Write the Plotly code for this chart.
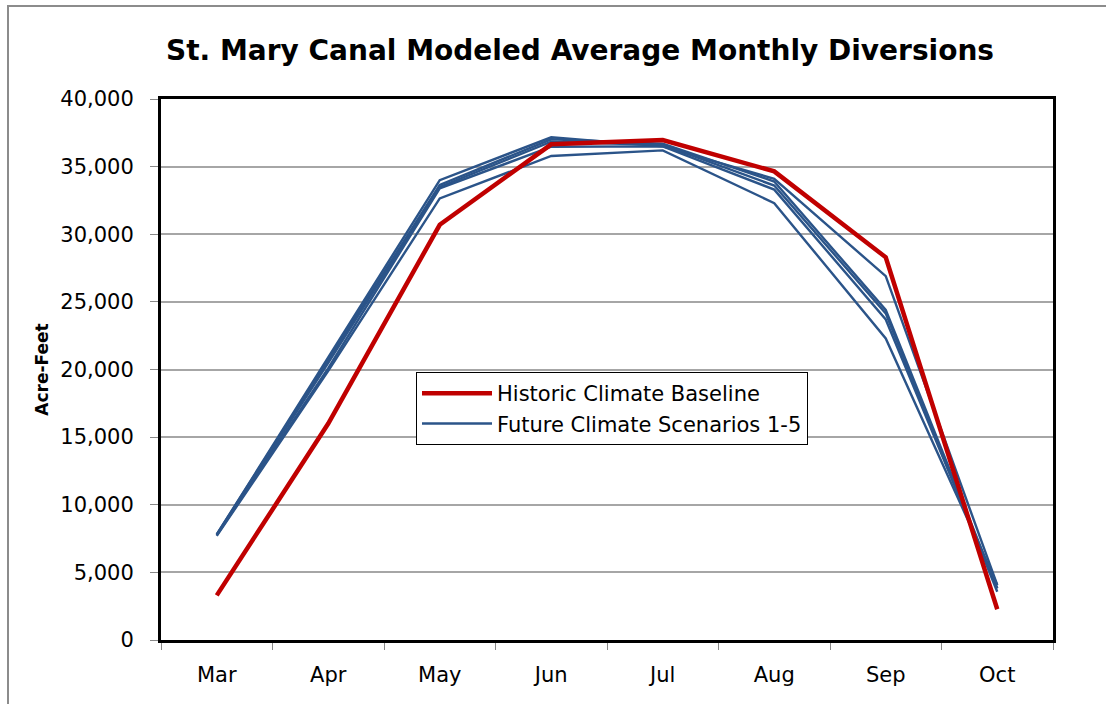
import plotly.graph_objects as go

months = ["Mar", "Apr", "May", "Jun", "Jul", "Aug", "Sep", "Oct"]
historic = [3300, 16000, 30700, 36650, 36970, 34650, 28300, 2270]
future_1 = [7800, 20900, 34000, 37170, 36500, 34100, 26900, 4070]
future_2 = [7800, 20700, 33650, 37020, 36700, 33900, 24400, 3820]
future_3 = [7750, 20500, 33500, 36840, 36600, 33600, 24150, 3570]
future_4 = [7750, 20100, 33400, 36470, 36500, 33300, 23700, 3820]
future_5 = [7700, 19900, 32650, 35790, 36200, 32300, 22300, 4070]
futures = [future_1, future_2, future_3, future_4, future_5]
y_ticks = [0, 5000, 10000, 15000, 20000, 25000, 30000, 35000, 40000]
y_tick_labels = ["0", "5,000", "10,000", "15,000", "20,000", "25,000", "30,000", "35,000", "40,000"]

FONT = "'DejaVu Sans', Verdana, sans-serif"
BLUE = "#2B5489"
RED = "#C00000"

fig = go.Figure()
for i, fut in enumerate(futures):
    fig.add_trace(go.Scatter(
        x=months, y=fut, mode="lines",
        line=dict(color=BLUE, width=2.4),
        name="Future Climate Scenarios 1-5",
        showlegend=(i == 0), legendrank=2,
    ))
fig.add_trace(go.Scatter(
    x=months, y=historic, mode="lines",
    line=dict(color=RED, width=4.5),
    name="Historic Climate Baseline", legendrank=1,
))

L, R, T, B = 161, 53, 99, 64
W, H = 1106, 704
pw, ph = W - L - R, H - T - B

def px(x):
    return (x - L) / pw

def py(y):
    return (H - B - y) / ph

fig.update_layout(
    width=W, height=H,
    margin=dict(l=L, r=R, t=T, b=B),
    paper_bgcolor="white", plot_bgcolor="white",
    font=dict(family=FONT, size=21, color="#000000"),
    title=dict(
        text="<b>St. Mary Canal Modeled Average Monthly Diversions</b>",
        x=580 / W, xanchor="center", y=1 - 50 / H, yanchor="middle",
        font=dict(family=FONT, size=28, color="#000000"),
    ),
    showlegend=True,
    legend=dict(
        x=px(416), y=py(372), xanchor="left", yanchor="top",
        bgcolor="white", bordercolor="#000000", borderwidth=1,
        font=dict(family=FONT, size=21),
        tracegroupgap=0, itemwidth=70,
    ),
    xaxis=dict(
        type="category", categoryorder="array", categoryarray=months,
        range=[-0.5, 7.5],
        showgrid=False, zeroline=False,
        showline=True, linecolor="#000000", linewidth=3, mirror=True,
        ticks="outside", ticklen=7, tickcolor="#888888", tickwidth=1,
        tickson="boundaries", ticklabelstandoff=14,
        tickfont=dict(family=FONT, size=21),
    ),
    yaxis=dict(
        range=[0, 40000],
        tickvals=y_ticks, ticktext=y_tick_labels,
        showgrid=True, gridcolor="#A6A6A6", gridwidth=1.5,
        zeroline=False,
        showline=True, linecolor="#000000", linewidth=3, mirror=True,
        ticks="outside", ticklen=8, tickcolor="#888888", tickwidth=1,
        ticklabelstandoff=12,
        tickfont=dict(family=FONT, size=21),
        title=dict(text="<b>Acre-Feet</b>", font=dict(family=FONT, size=17), standoff=8),
    ),
    shapes=[dict(
        type="rect", xref="paper", yref="paper",
        x0=px(8), x1=px(1130), y0=py(760), y1=py(6),
        line=dict(color="#8C8C8C", width=2), fillcolor="rgba(0,0,0,0)",
        layer="below",
    )],
)

fig.write_html(
    "out.html",
    config={"displayModeBar": False},
    post_script="document.body.style.margin='0';document.body.style.overflow='hidden';",
)
